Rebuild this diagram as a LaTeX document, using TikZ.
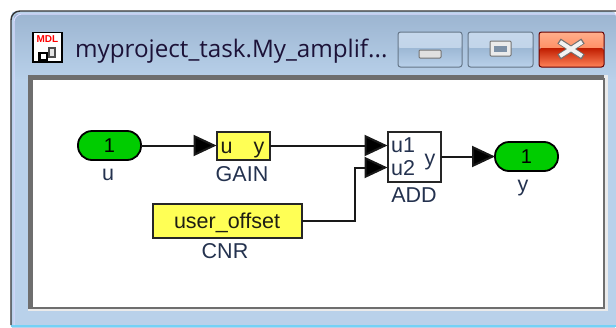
\documentclass[tikz,border=0pt]{standalone}
\usepackage{fontspec}
\setmainfont{Liberation Sans}
\newfontfamily\titlefont{Open Sans}
\usetikzlibrary{arrows.meta,calc}
\definecolor{winlow}{HTML}{B9D1EA}
\definecolor{wintop}{HTML}{9CB5D1}
\definecolor{labelc}{HTML}{24324F}
\definecolor{blockc}{HTML}{1E1E14}
\definecolor{termgreen}{HTML}{00CC00}
\definecolor{blockyellow}{HTML}{FFFF55}
\definecolor{framedark}{HTML}{6E6E6E}
\definecolor{btnhi}{HTML}{C6D8EC}
\definecolor{btnmid}{HTML}{9DB8D5}
\definecolor{titlec}{HTML}{1C1238}
\tikzset{
  term/.style={rectangle,rounded corners=14pt,
    draw=black,line width=1.8pt,fill=termgreen,minimum width=63pt,minimum height=29pt,inner sep=0pt,outer sep=0pt,
    font=\fontsize{20}{22}\selectfont,text=black},
  yblock/.style={rectangle,draw=black!85,line width=2pt,fill=blockyellow,inner sep=0pt,outer sep=0pt},
  wblock/.style={rectangle,draw=black!85,line width=2pt,fill=white,inner sep=0pt,outer sep=0pt},
  lab/.style={inner sep=0pt,font=\fontsize{21.5}{22}\selectfont,text=labelc},
  inner/.style={inner sep=0pt,font=\fontsize{21.5}{22}\selectfont,text=blockc},
  wire/.style={line width=2pt,draw=black!90},
  sig/.style={wire,-{Triangle[length=23pt,width=21pt,fill=black]}},
  wbtn/.style={draw=#1,line width=1pt,rounded corners=2.5pt}
}
\begin{document}
\begin{tikzpicture}[x=1pt,y=-1pt]
\useasboundingbox (0,0) rectangle (616,327);
\fill[white] (0,0) rectangle (616,327);
% window frame
\fill[winlow,rounded corners=5pt] (11,11) rectangle (616,330);
\fill[white] (0,325) rectangle (616,327);
\fill[cyan!55!white] (11,325) rectangle (616,327);
\shade[top color=wintop,bottom color=winlow,rounded corners=3pt] (14,14) rectangle (616,80);
\draw[black!80,line width=1.4pt] (11,325) -- (11,20) arc (180:270:9) -- (616,11);
\draw[white!85!blue,line width=1pt] (14,325) -- (14,22) arc (180:270:8) -- (616,14);
% client area
\fill[white!92!black] (28,75) rectangle (608,311);
\fill[framedark] (28,75) rectangle (604,80);
\fill[framedark] (28,75) rectangle (33,308);
\fill[framedark] (28,307) rectangle (604,309);
\fill[framedark] (603,78) rectangle (605,309);
\fill[white] (33,80) rectangle (603,307);
% icon
\fill[white] (32,32) rectangle (63,62);
\draw[black,line width=1.2pt] (33,32.5) rectangle (62,62);
\node[inner sep=0pt,font=\bfseries\fontsize{10}{10}\selectfont,text=red] (mdl) at (47.5,39.5) {MDL};
\fill[black] (38,52) rectangle (48,61);
\fill[white] (41,54) rectangle (46,59);
\fill[black!70] (48,47) -- (56,47) -- (56,58) -- (48,58) -- cycle;
\fill[black!10] (50,49) -- (54,49) -- (54,56) -- (50,56) -- cycle;
% title
\node[anchor=base west,inner sep=0pt,text=titlec,font=\titlefont\fontsize{24.2}{26}\selectfont] (title) at (75,57.5) {myproject\_task.My\_amplif...};
% buttons
\shade[top color=btnhi,bottom color=btnhi!90!wintop,rounded corners=2.5pt] (398,32) rectangle (462,48);
\shade[top color=btnmid,bottom color=winlow,rounded corners=2.5pt] (398,48) rectangle (462,67);
\draw[wbtn=black!35!wintop] (398,32) rectangle (462,67);
\shade[top color=btnhi,bottom color=btnhi!90!wintop,rounded corners=2.5pt] (468,32) rectangle (533,48);
\shade[top color=btnmid,bottom color=winlow,rounded corners=2.5pt] (468,48) rectangle (533,67);
\draw[wbtn=black!35!wintop] (468,32) rectangle (533,67);
\shade[top color=red!40!orange!45!white,bottom color=red!45!orange!60!white,rounded corners=2.5pt] (539,32) rectangle (604,48);
\shade[top color=red!70!orange!75!black,bottom color=red!50!orange!65!white,rounded corners=2.5pt] (539,48) rectangle (604,67);
\draw[wbtn=red!40!black] (539,32) rectangle (604,67);
\draw[black!55,fill=black!12,line width=1pt,rounded corners=1pt] (419,50) rectangle (441,58);
\draw[black!55,fill=black!8,line width=1pt,rounded corners=1pt] (490,41) rectangle (511,56);
\fill[wintop!80!black] (494,45.5) rectangle (507,51.5);
\draw[black!55,line width=6pt] (559,41) -- (583,57) (583,41) -- (559,57);
\draw[black!5,line width=4pt] (560,42) -- (582,56) (582,42) -- (560,56);
% blocks
\node[term] (uterm) at (109.5,145.5) {1};
\node[lab] (ulab) at (108,175) {u};
\node[yblock,minimum width=53pt,minimum height=28pt] (gain) at (243,145.5) {};
\node[inner,anchor=base] (gainu) at (226.5,153.5) {u};
\node[inner,anchor=base] (gainy) at (259,153.5) {y};
\node[lab] (gainlab) at (242,174) {GAIN};
\node[yblock,minimum width=149pt,minimum height=34pt] (cnr) at (227,220.5) {};
\node[inner,anchor=base] (offs) at (227,228) {user\_offset};
\node[lab] (cnrlab) at (225,251) {CNR};
\node[wblock,minimum width=53pt,minimum height=50pt] (add) at (414,156.5) {};
\coordinate (addone) at (add.west |- gain.east);
\coordinate (addtwo) at ($(add.west)+(0,11)$);
\node[inner,text=labelc,anchor=base west] (addu1) at (391,152) {u1};
\node[inner,text=labelc,anchor=base west] (addu2) at (391,175) {u2};
\node[inner,text=labelc,anchor=base] (addy) at (430,165) {y};
\node[lab] (addlab) at (414,195) {ADD};
\node[term] (yterm) at (526.5,156.5) {1};
\node[lab] (ylab) at (523,188) {y};
% connectors
\draw[sig] (uterm.east) -- (gain.west);
\draw[sig] (gain.east) -- (addone);
\draw[sig] (cnr.east) -- ++(53,0) |- (addtwo);
\draw[sig] (add.east) -- (yterm.west);
\end{tikzpicture}
\end{document}
